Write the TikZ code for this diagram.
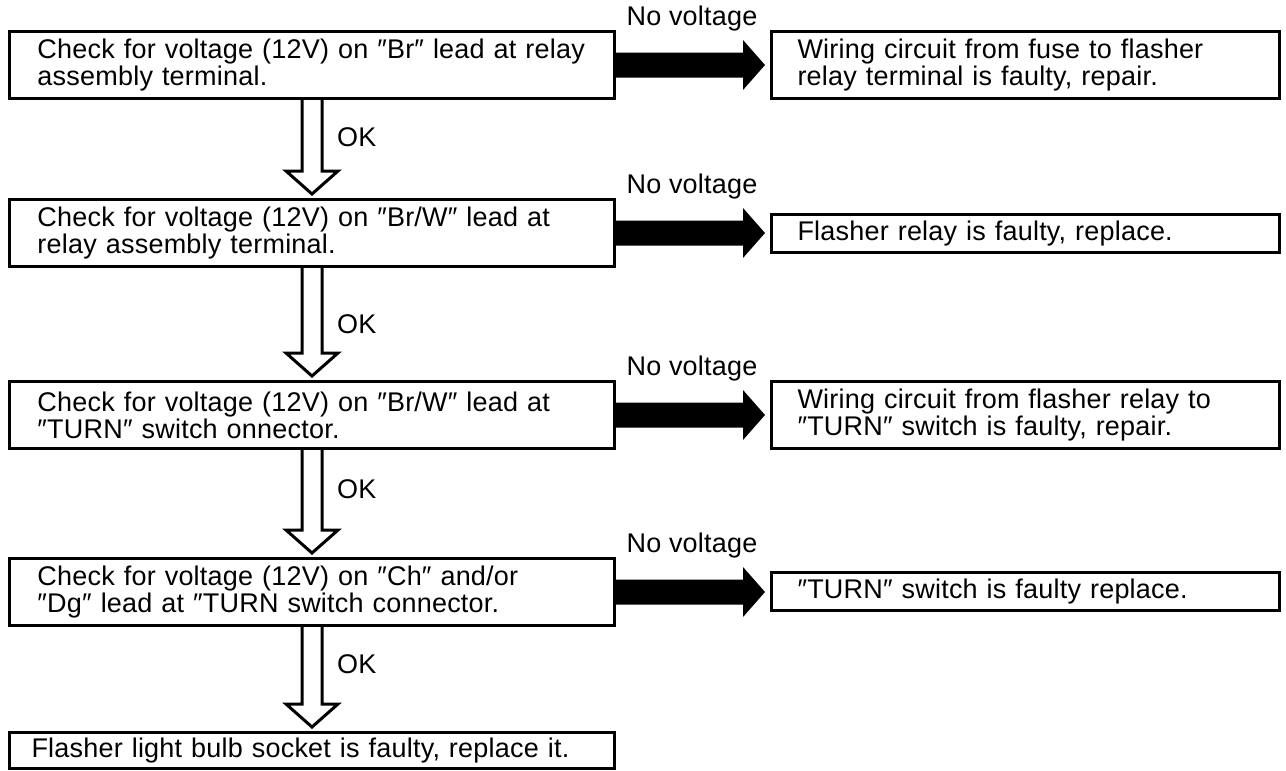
\documentclass[tikz,border=0pt]{standalone}
\usepackage{fontspec}
\setmainfont{Liberation Sans}[LetterSpace=0.8]
\usetikzlibrary{calc}
\newcommand{\okarrow}[3]{%
  \draw[hollow] ($(#1.south)+(-10,0)$) -- ($(#2.north)+(-10,-27)$) -- ($(#2.north)+(-26,-27)$) -- ($(#2.north)+(0,-4)$)
     -- ($(#2.north)+(26,-27)$) -- ($(#2.north)+(10,-27)$) -- ($(#1.south)+(10,0)$);
  \node[lbl, anchor=west] at ($($(#1.south)!#3!(#2.north)$)+(25,0)$) {OK};}
\newcommand{\nvarrow}[2]{%
  \fill ($(#1.east)+(0,-12.5)$) -- ($(#2.west|-#1.east)+(-27,-12.5)$) -- ($(#2.west|-#1.east)+(-27,-25)$)
     -- ($(#2.west|-#1.east)+(-5,0)$) -- ($(#2.west|-#1.east)+(-27,25)$) -- ($(#2.west|-#1.east)+(-27,12.5)$)
     -- ($(#1.east)+(0,12.5)$) -- cycle;
  \node[lbl] at ($(#1.north east)+(76,-11)$) {No voltage};}
\begin{document}
\begin{tikzpicture}[x=1pt,y=-1pt,
  txt/.style={font=\fontsize{27}{27}\selectfont},
  lbl/.style={txt, inner sep=0pt},
  box/.style={txt, draw, line width=3pt, rectangle, anchor=north west, align=left, inner ysep=0pt},
  lbox/.style={box, minimum width=605, minimum height=67, text width=549, inner xsep=28},
  rbox/.style={box, minimum width=508, minimum height=67, text width=456, inner xsep=26},
  rsbox/.style={rbox, minimum height=38},
  hollow/.style={line width=3pt, line join=miter}]
\useasboundingbox (0,0) rectangle (1286,771);
\node[lbox] (c1) at (8,30) {Check for voltage (12V) on ″Br″ lead at relay\\assembly terminal.};
\node[rbox] (r1) at (770,30) {Wiring circuit from fuse to flasher\\relay terminal is faulty, repair.};
\node[lbox] (c2) at (8,198) {Check for voltage (12V) on ″Br/W″ lead at\\relay assembly terminal.};
\node[rsbox] (r2) at (770,213) {Flasher relay is faulty, replace.};
\node[lbox] (c3) at (8,380) {Check for voltage (12V) on ″Br/W″ lead at\\″TURN″ switch onnector.};
\node[rbox] (r3) at (770,380) {Wiring circuit from flasher relay to\\″TURN″ switch is faulty, repair.};
\node[lbox] (c4) at (8,557) {Check for voltage (12V) on ″Ch″ and/or\\″Dg″ lead at ″TURN switch connector.};
\node[rsbox] (r4) at (770,571) {″TURN″ switch is faulty replace.};
\node[box, minimum width=605, minimum height=36, text width=561, inner xsep=22] (f) at (8,731) {Flasher light bulb socket is faulty, replace it.};
\okarrow{c1}{c2}{0.38}
\okarrow{c2}{c3}{0.5}
\okarrow{c3}{c4}{0.37}
\okarrow{c4}{f}{0.36}
\nvarrow{c1}{r1}
\nvarrow{c2}{r2}
\nvarrow{c3}{r3}
\nvarrow{c4}{r4}
\end{tikzpicture}
\end{document}
